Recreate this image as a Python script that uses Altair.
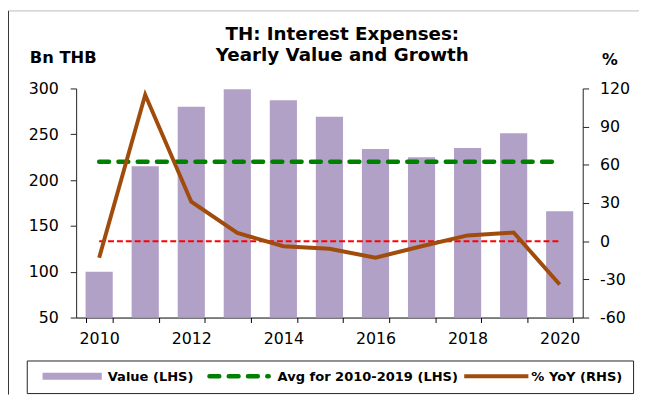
import altair as alt
import pandas as pd

# ---- data ----
years = ["2010", "2011", "2012", "2013", "2014", "2015", "2016", "2017", "2018", "2019", "2020"]
value_bn = [100, 215, 280, 299, 287, 269, 234, 225, 235, 251, 166]
yoy_pct = [-13, 115, 31, 6.5, -4, -6, -13, -4, 4.5, 6.8, -34]
avg_2010_2019 = 220
zero_ref = 0

left_ticks = [50, 100, 150, 200, 250, 300]
right_ticks = [-60, -30, 0, 30, 60, 90, 120]

title_lines = ["TH: Interest Expenses:", "Yearly Value and Growth"]
left_unit = "Bn THB"
right_unit = "%"
legend_labels = ["Value (LHS)", "Avg for 2010-2019 (LHS)", "% YoY (RHS)"]

# ---- styles ----
FONT = "DejaVu Sans"
PURPLE = "#b2a1c7"
GREEN = "#008000"
BROWN = "#a04c0c"
RED = "#ff0000"

df = pd.DataFrame({
    "year": years,
    "value": value_bn,
    "yoy": yoy_pct,
    "avg": [avg_2010_2019] * len(years),
    "zero": [zero_ref] * len(years),
})

x_enc = alt.X(
    "year:O",
    title=None,
    scale=alt.Scale(paddingInner=0.41, paddingOuter=0.205),
    axis=alt.Axis(
        labelAngle=0,
        tickBand="extent",
        labelExpr="toNumber(datum.value) % 2 == 0 ? datum.label : ''",
        tickSize=5,
        labelPadding=8,
        labelFont=FONT,
        labelFontSize=16,
        labelColor="black",
        domainColor="black",
        tickColor="black",
        grid=False,
    ),
)

left_axis = alt.Axis(
    values=left_ticks,
    tickSize=6,
    labelPadding=12,
    labelFont=FONT,
    labelFontSize=16,
    labelColor="black",
    domainColor="#222",
    tickColor="#222",
    grid=False,
    title=None,
)
right_axis = alt.Axis(
    orient="right",
    values=right_ticks,
    labelExpr="'' + datum.value",
    tickSize=6,
    labelPadding=11,
    labelFont=FONT,
    labelFontSize=16,
    labelColor="black",
    domainColor="#222",
    tickColor="#222",
    grid=False,
    title=None,
)

left_scale = alt.Scale(domain=[50, 300], zero=False, nice=False)
right_scale = alt.Scale(domain=[-60, 120], zero=False, nice=False)

bars = alt.Chart(df).mark_bar(color=PURPLE).encode(
    x=x_enc,
    y=alt.Y("value:Q", scale=left_scale, axis=left_axis, title=None),
    y2=alt.datum(50),
)
avg_line = alt.Chart(df).mark_line(
    color=GREEN, strokeWidth=4.5, strokeDash=[10, 9.5], strokeCap="round"
).encode(
    x=x_enc,
    y=alt.Y("avg:Q", scale=left_scale, axis=left_axis, title=None),
)
left_layer = alt.layer(bars, avg_line)

zero_line = alt.Chart(df).mark_line(color=RED, strokeWidth=2, strokeDash=[6, 3]).encode(
    x=x_enc,
    y=alt.Y("zero:Q", scale=right_scale, axis=right_axis, title=None),
)
yoy_line = alt.Chart(df).mark_line(color=BROWN, strokeWidth=4, strokeJoin="miter").encode(
    x=x_enc,
    y=alt.Y("yoy:Q", scale=right_scale, axis=right_axis, title=None),
)
right_layer = alt.layer(zero_line, yoy_line)

one = pd.DataFrame({"a": [0]})


def text_layer(s, x, y, size, align="left"):
    return alt.Chart(pd.DataFrame({"t": [s]})).mark_text(
        align=align, baseline="alphabetic", font=FONT, fontSize=size,
        fontWeight="bold", color="black",
    ).encode(text="t:N", x=alt.value(x), y=alt.value(y))


def rule_layer(x, x2, y, y2, color, width, dash=None, cap="butt"):
    kw = dict(color=color, strokeWidth=width, strokeCap=cap)
    if dash:
        kw["strokeDash"] = dash
    return alt.Chart(one).mark_rule(**kw).encode(
        x=alt.value(x), x2=alt.value(x2), y=alt.value(y), y2=alt.value(y2)
    )


decor = [
    # outer frame of the exhibit
    rule_layer(-69, 570, -78.5, -78.5, "#bbbbbb", 1),
    rule_layer(-68.5, -68.5, -78.5, 310, "#333333", 1),
    # titles
    text_layer(title_lines[0], 269.5, -49.5, 18.5, "center"),
    text_layer(title_lines[1], 269.5, -28, 18.5, "center"),
    text_layer(left_unit, -47, -26, 16.5),
    text_layer(right_unit, 540.5, -24, 16, "center"),
    # legend box
    alt.Chart(one).mark_rect(fill="white", stroke="#222222", strokeWidth=1).encode(
        x=alt.value(-49.5), x2=alt.value(564.5), y=alt.value(276), y2=alt.value(309)
    ),
    alt.Chart(one).mark_rect(fill=PURPLE).encode(
        x=alt.value(-34), x2=alt.value(26), y=alt.value(288), y2=alt.value(295)
    ),
    text_layer(legend_labels[0], 32, 296, 13.2),
    rule_layer(135, 195, 291.5, 291.5, GREEN, 4.5, [10, 9.5], "round"),
    text_layer(legend_labels[1], 204, 296, 13.2),
    rule_layer(393, 458, 291.5, 291.5, BROWN, 4),
    text_layer(legend_labels[2], 461, 296, 13.2),
]

chart = alt.layer(left_layer, right_layer, *decor).resolve_scale(
    y="independent"
).properties(
    width=513,
    height=232,
    padding={"left": 69, "top": 79, "right": 57, "bottom": 78},
    autosize=alt.AutoSizeParams(type="none"),
).configure_view(stroke=None)

chart.save("out.html", embed_options={"renderer": "svg", "actions": False})
